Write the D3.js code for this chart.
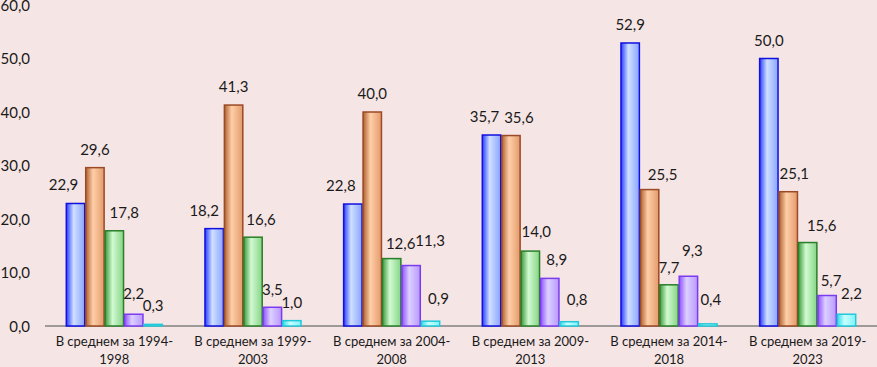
<!DOCTYPE html>
<html>
<head>
<meta charset="utf-8">
<script src="https://cdn.jsdelivr.net/npm/d3@7"></script>
<style>
  body { margin: 0; background: #f6e5e5; }
  text { font-family: Lato, "Open Sans", sans-serif; fill: #1a1a1a; }
</style>
</head>
<body>
<div id="chart"></div>
<script>
var width = 877;
var height = 367;

// периоды
let periods = ["В среднем за 1994-1998", "В среднем за 1999-2003", "В среднем за 2004-2008",
               "В среднем за 2009-2013", "В среднем за 2014-2018", "В среднем за 2019-2023"];
let series1 = [22.9, 18.2, 22.8, 35.7, 52.9, 50.0];
let series2 = [29.6, 41.3, 40.0, 35.6, 25.5, 25.1];
let series3 = [17.8, 16.6, 12.6, 14.0, 7.7, 15.6];
let series4 = [2.2, 3.5, 11.3, 8.9, 9.3, 5.7];
let series5 = [0.3, 1.0, 0.9, 0.8, 0.4, 2.2];
let yTicks = [0, 10, 20, 30, 40, 50, 60];

// сдвиги подписей (как в исходной диаграмме), по сериям
let labelDx = [
    [-12, -10, -12, -7, 0, 0],
    [0, 0, 0, 8, 13, 6],
    [10, 8, 9, 6, 0, 14],
    [0, 0, 19, 7, 4, 4],
    [0, 0, 8, 8, 3, 5]
];
let labelDy = [
    [0, 0, 0, 0, 0, 0],
    [0, 0, 0, 0, 3, 0],
    [0, 1, 3, -1, 1, 1],
    [-2, 1, -7, 0, -7, 3],
    [0, 0, -4, -4, -6, -2]
];

// цвета: край, светлая середина, правый край, обводка
let colors = [
    ["#2a3cff", "#cfe0ff", "#8aa4ff", "#1010e0"],
    ["#b0602f", "#ffcfa8", "#e39a6a", "#9a4a25"],
    ["#3a9a3a", "#d2fad2", "#86d486", "#2a7f2a"],
    ["#9050ff", "#dcd0ff", "#b898ff", "#7b3cf0"],
    ["#30dceb", "#c8ffff", "#7ef2fa", "#20c8d8"]
];

let allSeries = [series1, series2, series3, series4, series5];

var svg = d3.select("#chart").append("svg")
    .attr("width", width).attr("height", height);

svg.append("rect").attr("width", width).attr("height", height).attr("fill", "#f6e5e5");

let x = d3.scaleBand().domain(periods).range([45, 877]).paddingInner(0.3).paddingOuter(0.15);
let xi = d3.scaleBand().domain(d3.range(5)).range([0, x.bandwidth()]);
let y = d3.scaleLinear().domain([0, 60]).range([326, 5]);

let defs = svg.append("defs");
colors.forEach((c, i) => {
    let g = defs.append("linearGradient").attr("id", "grad" + i)
        .attr("x1", "0%").attr("x2", "100%").attr("y1", "0%").attr("y2", "0%");
    g.append("stop").attr("offset", "0%").attr("stop-color", c[0]);
    g.append("stop").attr("offset", "40%").attr("stop-color", c[1]);
    g.append("stop").attr("offset", "100%").attr("stop-color", c[2]);
});

let fmt = d => d3.format(".1f")(d).replace(".", ",");

// ось Y
let yAxis = d3.axisLeft(y).tickValues(yTicks).tickSize(0).tickPadding(0).tickFormat(fmt);
let ga = svg.append("g").attr("transform", "translate(30,0)").call(yAxis);
ga.select(".domain").remove();
ga.selectAll("text").style("font-size", "15px").attr("dy", "0.35em");

// ось X
svg.append("line").attr("x1", 45).attr("x2", 877).attr("y1", y(0)).attr("y2", y(0))
    .attr("stroke", "#808080").attr("stroke-width", 1.5);

let data = periods.map((p, i) => ({
    period: p,
    values: allSeries.map((s, k) => ({k: k, i: i, v: s[i]}))
}));

let groups = svg.selectAll(".grp").data(data).join("g")
    .attr("class", "grp")
    .attr("transform", d => `translate(${x(d.period)},0)`);

groups.selectAll("rect").data(d => d.values).join("rect")
    .attr("x", d => xi(d.k) + 0.5)
    .attr("y", d => y(d.v))
    .attr("width", xi.bandwidth() - 1)
    .attr("height", d => y(0) - y(d.v))
    .attr("fill", d => `url(#grad${d.k})`)
    .attr("stroke", d => colors[d.k][3])
    .attr("stroke-width", 1.5);

groups.selectAll(".lbl").data(d => d.values).join("text")
    .attr("class", "lbl")
    .attr("x", d => xi(d.k) + xi.bandwidth() / 2 + labelDx[d.k][d.i])
    .attr("y", d => y(d.v) - 13 + labelDy[d.k][d.i])
    .attr("text-anchor", "middle")
    .style("font-size", "15px")
    .text(d => fmt(d.v));

// подписи категорий
periods.forEach(p => {
    let parts = p.split("-");
    let cx = x(p) + x.bandwidth() / 2;
    let t = svg.append("text").attr("x", cx).attr("y", 346)
        .attr("text-anchor", "middle").style("font-size", "13px");
    t.append("tspan").attr("x", cx).text(parts[0] + "-");
    t.append("tspan").attr("x", cx).attr("dy", 18).text(parts[1]);
});
</script>
</body>
</html>
